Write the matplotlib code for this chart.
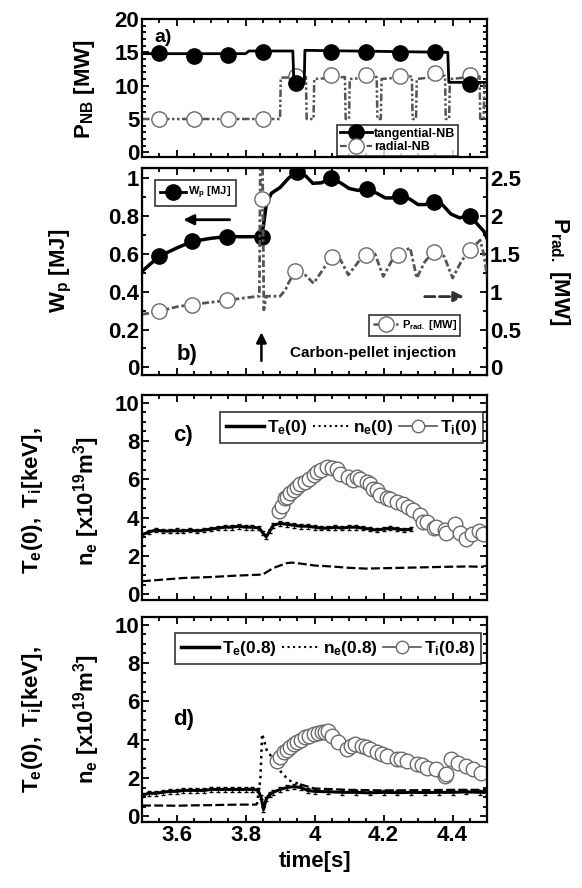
import matplotlib
matplotlib.use("Agg")
import matplotlib.pyplot as plt
from matplotlib.lines import Line2D
from matplotlib.ticker import MultipleLocator
import numpy as np

plt.rcParams['font.family'] = ['Liberation Sans', 'DejaVu Sans']
plt.rcParams['font.weight'] = 'bold'
plt.rcParams['mathtext.fontset'] = 'custom'
plt.rcParams['mathtext.rm'] = 'Liberation Sans:bold'
plt.rcParams['mathtext.it'] = 'Liberation Sans:bold'
plt.rcParams['mathtext.bf'] = 'Liberation Sans:bold'
plt.rcParams['mathtext.default'] = 'rm'

# ---- panel a: NB power [MW]
tang_t = [3.50, 3.80, 3.81, 3.937, 3.940, 3.970, 3.972, 4.386, 4.389, 4.50]
tang_v = [14.8, 14.8, 15.2, 15.2, 10.5, 10.5, 15.3, 15.0, 10.5, 10.5]
tang_mt = [3.55, 3.65, 3.75, 3.85, 3.946, 4.049, 4.148, 4.248, 4.349, 4.449]
tang_mv = [14.9, 14.5, 14.6, 15.0, 10.4, 15.0, 15.1, 14.9, 15.0, 10.2]

rad_t = [3.50, 3.900, 3.902, 3.975, 3.977, 3.997, 3.999, 4.088, 4.090, 4.100, 4.102,
         4.180, 4.182, 4.192, 4.194, 4.282, 4.284, 4.294, 4.296, 4.378, 4.380, 4.390,
         4.392, 4.478, 4.480, 4.490, 4.492, 4.50]
rad_v = [5.0, 5.0, 11.2, 11.3, 5.0, 5.0, 11.0, 11.3, 5.0, 5.0, 11.0,
         11.3, 5.0, 5.0, 11.0, 11.4, 5.0, 5.0, 11.0, 11.5, 5.0, 5.0,
         11.0, 11.4, 5.0, 5.0, 10.8, 10.8]
rad_mt = [3.55, 3.65, 3.75, 3.85, 3.946, 4.049, 4.148, 4.248, 4.349, 4.449]
rad_mv = [5.0, 5.0, 5.0, 5.0, 11.5, 11.6, 11.6, 11.5, 11.9, 11.6]

# ---- panel b: stored energy [MJ] and radiated power [MW]
wp_t = [3.50, 3.549, 3.60, 3.645, 3.70, 3.747, 3.80, 3.845, 3.852, 3.86, 3.875, 3.90,
        3.925, 3.949, 3.975, 3.995, 4.02, 4.047, 4.075, 4.10, 4.125, 4.151, 4.18,
        4.205, 4.225, 4.247, 4.275, 4.30, 4.32, 4.346, 4.37, 4.395, 4.42, 4.45,
        4.475, 4.49, 4.50]
wp_v = [0.507, 0.586, 0.63, 0.665, 0.682, 0.691, 0.69, 0.691, 0.75, 0.86, 0.92, 0.95,
        1.0, 1.033, 1.01, 0.972, 0.975, 0.998, 0.975, 0.945, 0.935, 0.94, 0.92,
        0.895, 0.895, 0.905, 0.89, 0.86, 0.86, 0.875, 0.86, 0.81, 0.79, 0.80,
        0.75, 0.72, 0.68]
wp_mt = [3.549, 3.645, 3.747, 3.848, 3.949, 4.047, 4.151, 4.247, 4.346, 4.45]
wp_mv = [0.586, 0.665, 0.691, 0.691, 1.033, 0.998, 0.94, 0.905, 0.875, 0.80]

prad_t = [3.50, 3.549, 3.60, 3.645, 3.70, 3.747, 3.80, 3.84, 3.843, 3.849, 3.853,
          3.86, 3.90, 3.915, 3.925, 3.944, 3.973, 3.997, 4.03, 4.05, 4.075, 4.098,
          4.128, 4.149, 4.175, 4.199, 4.225, 4.243, 4.277, 4.296, 4.32, 4.346, 4.375,
          4.40, 4.425, 4.45, 4.48, 4.49, 4.50]
prad_v = [0.70, 0.74, 0.80, 0.83, 0.86, 0.885, 0.92, 0.94, 2.8, 2.8, 0.76,
          0.94, 0.94, 1.02, 1.12, 1.27, 1.22, 1.11, 1.33, 1.46, 1.42, 1.22,
          1.40, 1.49, 1.50, 1.20, 1.42, 1.49, 1.58, 1.18, 1.40, 1.53, 1.47,
          1.18, 1.40, 1.55, 1.68, 1.50, 1.20]
prad_mt = [3.549, 3.645, 3.747, 3.848, 3.944, 4.05, 4.149, 4.243, 4.346, 4.45]
prad_mv = [0.74, 0.83, 0.885, 2.22, 1.27, 1.46, 1.49, 1.49, 1.53, 1.55]

# ---- panel c: central values
te0_t = [3.50, 3.52, 3.54, 3.56, 3.58, 3.60, 3.62, 3.64, 3.66, 3.68, 3.70, 3.72, 3.74,
         3.76, 3.78, 3.80, 3.82, 3.84, 3.85, 3.86, 3.87, 3.88, 3.90, 3.92, 3.94, 3.96,
         3.98, 4.00, 4.02, 4.04, 4.06, 4.08, 4.10, 4.12, 4.14, 4.16, 4.18, 4.20, 4.22,
         4.24, 4.26, 4.28]
te0_v = [3.1, 3.25, 3.35, 3.3, 3.3, 3.32, 3.3, 3.35, 3.3, 3.35, 3.4, 3.45, 3.5,
         3.5, 3.55, 3.5, 3.5, 3.45, 3.2, 3.0, 3.3, 3.6, 3.7, 3.65, 3.6, 3.55,
         3.55, 3.5, 3.45, 3.45, 3.5, 3.45, 3.5, 3.5, 3.45, 3.4, 3.35, 3.4, 3.45,
         3.4, 3.35, 3.4]
ne0_t = [3.50, 3.55, 3.62, 3.70, 3.77, 3.85, 3.88, 3.92, 3.935, 3.96, 4.00, 4.05,
         4.10, 4.15, 4.20, 4.25, 4.30, 4.35, 4.40, 4.45, 4.49]
ne0_v = [0.68, 0.75, 0.85, 0.9, 0.97, 1.03, 1.37, 1.63, 1.65, 1.6, 1.5, 1.45,
         1.38, 1.34, 1.36, 1.38, 1.4, 1.42, 1.44, 1.45, 1.43]
ti0_t = [3.896, 3.905, 3.915, 3.92, 3.93, 3.939, 3.95, 3.958, 3.973, 3.985, 3.997,
         4.007, 4.02, 4.035, 4.05, 4.064, 4.075, 4.098, 4.11, 4.122, 4.132, 4.151,
         4.161, 4.17, 4.18, 4.19, 4.209, 4.22, 4.238, 4.255, 4.271, 4.285, 4.305,
         4.315, 4.325, 4.347, 4.353, 4.377, 4.38, 4.406, 4.42, 4.44, 4.455, 4.476,
         4.487]
ti0_v = [4.35, 4.6, 5.0, 5.1, 5.3, 5.43, 5.6, 5.78, 5.87, 6.0, 6.2,
         6.38, 6.5, 6.64, 6.6, 6.55, 6.3, 6.12, 5.95, 6.12, 6.03, 5.87,
         5.78, 5.5, 5.43, 5.2, 5.0, 4.95, 4.83, 4.7, 4.57, 4.4, 4.13,
         3.76, 3.79, 3.44, 3.53, 3.36, 3.2, 3.68, 3.2, 2.88, 3.12, 3.28,
         3.12]

# ---- panel d: values at r/a = 0.8
te8_t = [3.50, 3.52, 3.54, 3.56, 3.58, 3.60, 3.62, 3.64, 3.66, 3.68, 3.70, 3.72,
         3.74, 3.76, 3.78, 3.80, 3.82, 3.835, 3.845, 3.852, 3.86, 3.87, 3.88, 3.90,
         3.92, 3.94, 3.96, 3.98, 4.00, 4.04, 4.08, 4.12, 4.16, 4.20, 4.24, 4.28,
         4.32, 4.36, 4.40, 4.44, 4.48, 4.50]
te8_v = [1.1, 1.2, 1.2, 1.25, 1.3, 1.3, 1.35, 1.35, 1.35, 1.35, 1.4, 1.4,
         1.4, 1.4, 1.4, 1.4, 1.4, 1.37, 1.0, 0.35, 0.9, 1.15, 1.25, 1.4,
         1.5, 1.55, 1.5, 1.35, 1.3, 1.28, 1.25, 1.25, 1.22, 1.25, 1.23, 1.25,
         1.24, 1.25, 1.25, 1.27, 1.25, 1.25]
ne8_t = [3.50, 3.55, 3.60, 3.65, 3.70, 3.75, 3.80, 3.833, 3.843, 3.848, 3.862,
         3.881, 3.90, 3.925, 3.958, 3.98, 4.00, 4.10, 4.20, 4.30, 4.40, 4.50]
ne8_v = [0.56, 0.56, 0.55, 0.57, 0.58, 0.6, 0.61, 0.61, 1.93, 4.3, 3.42,
         2.98, 2.37, 1.88, 1.67, 1.55, 1.45, 1.38, 1.35, 1.36, 1.38, 1.38]
ti8_t = [3.891, 3.90, 3.91, 3.92, 3.929, 3.94, 3.949, 3.96, 3.973, 3.985, 3.997,
         4.01, 4.021, 4.03, 4.04, 4.05, 4.069, 4.093, 4.105, 4.117, 4.137, 4.15,
         4.161, 4.18, 4.195, 4.209, 4.238, 4.25, 4.267, 4.296, 4.31, 4.325, 4.353,
         4.377, 4.38, 4.396, 4.417, 4.439, 4.46, 4.482]
ti8_v = [2.9, 3.1, 3.33, 3.45, 3.6, 3.75, 3.86, 4.0, 4.12, 4.2, 4.3,
         4.35, 4.38, 4.42, 4.47, 4.2, 3.86, 3.51, 3.65, 3.77, 3.68, 3.6,
         3.51, 3.33, 3.25, 3.16, 2.98, 3.0, 2.89, 2.72, 2.65, 2.54, 2.46,
         2.1, 2.18, 2.97, 2.8, 2.62, 2.45, 2.27]

XTICKS = [3.6, 3.8, 4.0, 4.2, 4.4]
XTICKLABELS = ['3.6', '3.8', '4', '4.2', '4.4']

FS = 16

fig = plt.figure(figsize=(5.82, 8.88), dpi=100)
L, W = 0.244, 0.593
ax_a = fig.add_axes([L, 0.8232, W, 0.1554])
ax_b = fig.add_axes([L, 0.5777, W, 0.2331])
ax_c = fig.add_axes([L, 0.3243, W, 0.2309])
ax_d = fig.add_axes([L, 0.0743, W, 0.2309])


def style(ax, ymaj, ymin, right=True):
    ax.set_xlim(3.5, 4.5)
    ax.xaxis.set_major_locator(MultipleLocator(0.2))
    ax.xaxis.set_minor_locator(MultipleLocator(0.05))
    ax.yaxis.set_major_locator(MultipleLocator(ymaj))
    ax.yaxis.set_minor_locator(MultipleLocator(ymin))
    ax.tick_params(which='both', direction='in', top=True, right=right,
                   labelsize=FS, width=1.3, pad=2)
    ax.tick_params(which='major', length=5)
    ax.tick_params(which='minor', length=3)
    for s in ax.spines.values():
        s.set_linewidth(1.6)


grey = '#555555'
circ = dict(marker='o', mfc='white', mec='#6a6a6a', mew=1.0, ls='none')

# ---- a
ax = ax_a
ax.plot(rad_t, rad_v, color=grey, lw=1.8, ls=(0, (3, 1, 1, 1, 1, 1)))
ax.plot(rad_mt, rad_mv, ms=11, **circ)
ax.plot(tang_t, tang_v, color='k', lw=2.0)
ax.plot(tang_mt, tang_mv, 'o', color='k', ms=11)
ax.set_ylim(-0.7, 20)
style(ax, 5, 1)
ax.set_xticklabels([])
ax.text(0.035, 0.93, 'a)', transform=ax.transAxes, fontsize=14, fontweight='bold', va='top')
h_a = [Line2D([], [], color='k', lw=2, marker='o', ms=11),
       Line2D([], [], color=grey, lw=1.6, ls=(0, (3, 1, 1, 1)), marker='o', mfc='white',
              mec='#6a6a6a', ms=11)]
lg = ax.legend(h_a, ['tangential-NB', 'radial-NB'], loc='lower left', bbox_to_anchor=(0.565, 0.01),
               fontsize=9, frameon=True, fancybox=False, edgecolor='k', handlelength=2.6,
               handletextpad=0.15, borderpad=0.2, labelspacing=0.1, borderaxespad=0)
lg.get_frame().set_linewidth(1.2)
fig.text(0.145, 0.9, r'$P_{NB}\ [MW]$', rotation=90, fontsize=FS, ha='center', va='center')

# ---- b
ax = ax_b
ax.plot(wp_t, wp_v, color='k', lw=2.5)
ax.plot(wp_mt, wp_mv, 'o', color='k', ms=11)
ax.set_ylim(-0.04, 1.053)
style(ax, 0.2, 0.1, right=False)
ax.set_xticklabels([])
ax.set_yticks([0, 0.2, 0.4, 0.6, 0.8, 1.0])
ax.set_yticklabels(['0', '0.2', '0.4', '0.6', '0.8', '1'])
axr = ax.twinx()
axr.plot(prad_t, prad_v, color=grey, lw=2.0, ls=(0, (2.5, 1, 1, 1)))
axr.plot(prad_mt, prad_mv, ms=11, **circ)
axr.set_ylim(-0.1, 2.6325)
axr.yaxis.set_major_locator(MultipleLocator(0.5))
axr.yaxis.set_minor_locator(MultipleLocator(0.25))
axr.tick_params(which='both', direction='in', labelsize=FS, width=1.3, pad=2)
axr.tick_params(which='major', length=5)
axr.tick_params(which='minor', length=3)
axr.set_yticks([0, 0.5, 1.0, 1.5, 2.0, 2.5])
axr.set_yticklabels(['0', '0.5', '1', '1.5', '2', '2.5'])
ax.text(0.1, 0.1, 'b)', transform=ax.transAxes, fontsize=FS, fontweight='bold', va='center')
ax.annotate('', xy=(3.612, 0.78), xytext=(3.762, 0.78),
            arrowprops=dict(arrowstyle='-|>', color='k', lw=2, mutation_scale=15))
ax.annotate('', xy=(4.441, 0.374), xytext=(4.311, 0.374),
            arrowprops=dict(arrowstyle='-|>', color='#333333', lw=2, ls='--', mutation_scale=15))
ax.annotate('', xy=(3.846, 0.2), xytext=(3.846, 0.02),
            arrowprops=dict(arrowstyle='-|>', color='k', lw=1.8, mutation_scale=15))
ax.text(4.17, 0.075, 'Carbon-pellet injection', fontsize=11, fontweight='bold',
        ha='center', va='center')
h_w = [Line2D([], [], color='k', lw=2, marker='o', ms=11)]
lg = ax.legend(h_w, [r'$W_p\ [MJ]$'], loc='upper left', bbox_to_anchor=(0.038, 0.94),
               fontsize=8, frameon=True, fancybox=False, edgecolor='k', handlelength=2.4,
               handletextpad=0.2, borderpad=0.4, borderaxespad=0)
lg.get_frame().set_linewidth(1.2)
h_p = [Line2D([], [], color=grey, lw=1.8, ls=(0, (2.5, 1, 1, 1)), marker='o',
              mfc='white', mec='#6a6a6a', ms=11)]
lg2 = axr.legend(h_p, [r'$P_{rad.}\ [MW]$'], loc='lower right', bbox_to_anchor=(0.922, 0.19),
                 fontsize=8, frameon=True, fancybox=False, edgecolor='k', handlelength=2.4,
                 handletextpad=0.2, borderpad=0.3, borderaxespad=0)
lg2.get_frame().set_linewidth(1.2)
fig.text(0.105, 0.695, r'$W_p\ [MJ]$', rotation=90, fontsize=FS, ha='center', va='center')
fig.text(0.962, 0.695, r'$P_{rad.}\ [MW]$', rotation=270, fontsize=FS, ha='center', va='center')


def profile_panel(ax, te_t, te_v, ne_t, ne_v, ti_t, ti_v, tag, tag_xy, labels, leg_anchor,
                  spike=None):
    if spike is None:
        ax.plot(ne_t, ne_v, color='k', lw=1.6, ls=(0, (4, 1.5)))
    else:
        i0, i1 = spike
        ax.plot(ne_t[:i0 + 1], ne_v[:i0 + 1], color='k', lw=1.6, ls=(0, (4, 1.5)))
        ax.plot(ne_t[i0:i1 + 1], ne_v[i0:i1 + 1], color='k', lw=1.8, ls=':')
        ax.plot(ne_t[i1:], ne_v[i1:], color='k', lw=1.6, ls=(0, (4, 1.5)))
    ax.errorbar(te_t, te_v, yerr=0.12, color='k', lw=2.2, capsize=1.5, elinewidth=0.8)
    ax.errorbar(ti_t, ti_v, yerr=0.22, fmt='o', ms=10.5, mfc='white', mec='#6a6a6a',
                mew=1.0, ecolor='#444444', elinewidth=0.7, capsize=2)
    ax.set_ylim(-0.3, 10.4)
    style(ax, 2, 0.5)
    ax.text(tag_xy[0], tag_xy[1], tag, transform=ax.transAxes, fontsize=FS,
            fontweight='bold', va='center')
    hs = [Line2D([], [], color='k', lw=2.5),
          Line2D([], [], color='k', lw=1.5, ls=':'),
          Line2D([], [], color='#555555', lw=1.2, marker='o', mfc='white', mec='#6a6a6a', ms=9)]
    lg = ax.legend(hs, labels, loc='upper right', bbox_to_anchor=leg_anchor, ncol=3,
                   fontsize=12.5, frameon=True, fancybox=False, edgecolor='k',
                   handlelength=2.2, handletextpad=0.15, columnspacing=0.3,
                   borderpad=0.35, borderaxespad=0)
    lg.get_frame().set_linewidth(1.2)


profile_panel(ax_c, te0_t, te0_v, ne0_t, ne0_v, ti0_t, ti0_v, 'c)', (0.09, 0.8),
              [r'$T_e(0)$', r'$n_e(0)$', r'$T_i(0)$'], (0.988, 0.917))
ax_c.set_xticklabels([])
profile_panel(ax_d, te8_t, te8_v, ne8_t, ne8_v, ti8_t, ti8_v, 'd)', (0.09, 0.5),
              [r'$T_e(0.8)$', r'$n_e(0.8)$', r'$T_i(0.8)$'], (0.983, 0.922), spike=(7, 14))
ax_d.set_xticks(XTICKS)
ax_d.set_xticklabels(XTICKLABELS, fontsize=FS, fontweight='bold')
ax_d.set_xlabel('time[s]', fontsize=FS, fontweight='bold', labelpad=4)

for yc in (0.436, 0.19):
    fig.text(0.055, yc, r'$T_e(0),\ T_i[keV],$', rotation=90, fontsize=FS, ha='center', va='center')
    fig.text(0.148, yc, r'$n_e\ [x10^{19}m^3]$', rotation=90, fontsize=FS, ha='center', va='center')

fig.savefig('out.png', dpi=100)
